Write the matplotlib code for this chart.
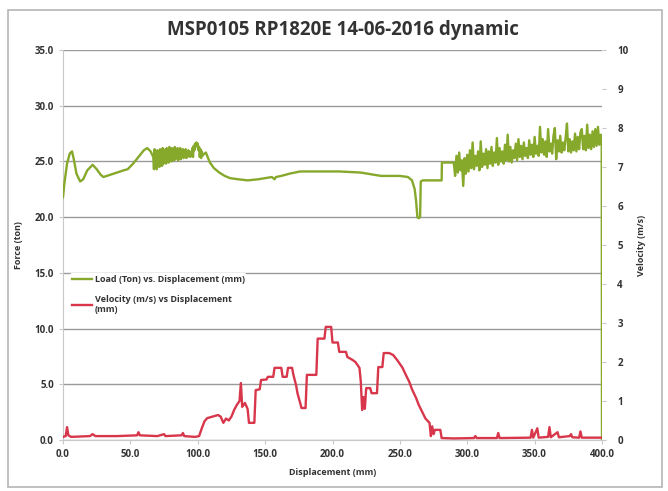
import matplotlib
matplotlib.use("Agg")
import matplotlib.pyplot as plt
from matplotlib.patches import Rectangle

plt.rcParams['font.family'] = ['Open Sans', 'DejaVu Sans']

title = "MSP0105 RP1820E 14-06-2016 dynamic"
x_label = "Displacement (mm)"
y_left_label = "Force (ton)"
y_right_label = "Velocity (m/s)"
load_name = "Load (Ton) vs. Displacement (mm)"
vel_name = "Velocity (m/s) vs Displacement\n(mm)"

x_ticks = [0, 50, 100, 150, 200, 250, 300, 350, 400]
force_ticks = [0, 5, 10, 15, 20, 25, 30, 35]
vel_ticks = [0, 1, 2, 3, 4, 5, 6, 7, 8, 9, 10]

load_disp = [0, 1, 3, 5, 6.7, 8, 10, 12.7, 15, 18, 22, 25, 28, 30, 35, 40, 45, 48, 52, 56, 60, 62.5, 65,
             67, 67.5, 68, 68.5, 69, 69.5, 70, 70.5, 71, 71.5, 72, 72.5, 73, 73.5, 74, 74.5, 75, 75.5,
             76, 76.5, 77, 77.5, 78, 78.5, 79, 79.5, 80, 80.5, 81, 81.5, 82, 82.5, 83, 83.5, 84, 84.5,
             85, 85.5, 86, 86.5, 87, 87.5, 88, 88.5, 89, 89.5, 90, 90.5, 91, 91.5, 92, 92.5, 93, 93.5,
             94, 94.5, 95, 95.5, 96, 96.5, 97, 97.5, 98, 98.5, 99, 99.5, 100, 100.5, 101, 101.5, 102,
             102.5, 103, 103.5, 104,
             106, 109, 112, 116, 120, 124, 130, 137, 145, 150, 155, 157, 158, 162, 168, 176, 190, 205, 221,
             236, 250, 256, 259, 261, 262, 263, 264, 265, 265.5, 267, 281, 281.2,
             290, 291, 292, 293, 294, 295, 296, 297, 298, 299, 300, 301, 302, 303, 304, 305, 306, 307,
             308, 309, 310, 311, 312, 313, 314, 315, 316, 317, 318, 319, 320, 321, 322, 323, 324, 325,
             326, 327, 328, 329, 330, 331, 332, 333, 334, 335, 336, 337, 338, 339, 340, 341, 342, 343,
             344, 345, 346, 347, 348, 349, 350, 351, 352, 353, 354, 355, 356, 357, 358, 359, 360, 361,
             362, 363, 364, 365, 366, 367, 368, 369, 370, 371, 372, 373, 374, 375, 376, 377, 378, 379,
             380, 381, 382, 383, 384, 385, 386, 387, 388, 389, 390, 391, 392, 393, 394, 395, 396, 397,
             398, 399, 399.8, 400]
load_ton = [21.8, 23.0, 24.8, 25.7, 25.9, 25.2, 23.9, 23.2, 23.4, 24.2, 24.7, 24.3, 23.8, 23.6, 23.8, 24.0,
            24.2, 24.3, 24.8, 25.4, 26.0, 26.2, 25.9,
            25.4, 24.3, 26.1, 24.5, 25.9, 24.3, 26.0, 24.6, 25.8, 24.5, 26.1, 24.7, 25.9, 24.6, 26.2, 24.8,
            26.0, 24.9, 26.1, 24.8, 26.2, 25.0, 26.0, 24.9, 26.3, 25.1, 26.1, 25.0, 26.2, 25.2, 26.0, 25.1,
            26.3, 25.2, 26.1, 25.3, 26.2, 25.1, 26.0, 25.3, 26.2, 25.2, 26.0, 25.4, 26.1, 25.3, 25.9, 25.4,
            26.1, 25.3, 25.9, 25.4, 26.0, 25.5, 25.9, 25.4, 25.8, 25.5, 26.2, 25.4, 26.4, 26.0, 26.6, 26.3,
            26.7, 26.5, 26.6, 26.0, 26.3, 25.4, 26.1, 25.3, 25.9, 25.5, 25.6,
            25.8, 24.9, 24.4, 24.0, 23.7, 23.5, 23.4, 23.3, 23.4, 23.5, 23.6, 23.4, 23.6, 23.7, 23.9, 24.1,
            24.1, 24.1, 24.0,
            23.7, 23.7, 23.6, 23.3, 22.5, 21.5, 20.0, 19.9, 20.0, 23.2, 23.3, 23.3, 24.9,
            24.9, 23.7, 25.5, 24.0, 25.8, 24.2, 25.1, 22.8, 25.3, 23.9,
            25.6, 24.1, 26.0, 24.4, 26.7, 24.3, 25.5, 24.6, 25.9, 24.2,
            26.8, 24.5, 25.7, 24.7, 26.1, 24.4, 25.9, 24.8, 26.3, 24.6,
            25.8, 24.9, 27.1, 24.7, 26.2, 25.0, 25.9, 24.8, 26.5, 25.1,
            27.4, 25.0, 26.3, 24.9, 26.0, 25.3, 26.6, 25.1, 27.0, 25.4,
            26.4, 25.2, 26.7, 25.5, 26.2, 25.3, 26.9, 25.6, 26.5, 25.4,
            27.2, 25.7, 26.4, 25.5, 28.1, 25.8, 27.0, 25.6, 26.8, 25.4,
            27.9, 25.9, 26.6, 25.7, 27.3, 28.0, 25.2, 26.9, 25.9, 27.3,
            25.8, 26.7, 26.0, 27.1, 28.4, 25.9, 27.0, 25.8, 26.8, 26.0,
            27.5, 25.9, 27.2, 26.1, 27.6, 27.9, 26.1, 27.3, 26.0, 28.3,
            26.2, 27.4, 26.1, 27.7, 26.3, 27.9, 26.4, 28.1, 26.5, 27.4, 26.8, 0.0]

vel_disp = [0, 2, 3, 4, 6, 20, 22, 24, 40, 55, 56, 57, 70, 75, 76, 88, 89, 90, 98, 101, 103, 105, 107, 111,
            115, 117, 119, 121, 123, 125, 127, 129, 131, 132, 133, 135, 137, 138, 142, 143, 146, 147, 151,
            152, 156, 157, 162, 163, 166, 167, 170, 171, 173, 174, 176, 177, 180, 181, 188, 189, 194, 195,
            199, 200, 204, 205, 210, 211, 215, 217, 220, 221, 222, 223, 224, 225, 228, 229, 233, 234, 237,
            238, 242, 245, 248, 250, 252, 254, 257, 259, 262, 264, 267, 269, 272, 273, 274, 275, 276, 280,
            281, 290, 305, 306, 307, 322, 323, 324, 347, 348, 349, 352, 353, 360, 361, 362, 367, 368, 376,
            377, 378, 383, 384, 385, 400]
vel_ms = [0.08, 0.1, 0.33, 0.12, 0.08, 0.1, 0.15, 0.1, 0.1, 0.12, 0.2, 0.12, 0.1, 0.15, 0.1, 0.12, 0.18, 0.1,
          0.08, 0.1, 0.3, 0.48, 0.56, 0.6, 0.64, 0.6, 0.44, 0.55, 0.5, 0.6, 0.77, 0.9, 1.0, 1.46, 0.85, 0.95,
          0.8, 0.44, 0.44, 1.28, 1.3, 1.54, 1.55, 1.62, 1.62, 1.85, 1.85, 1.62, 1.62, 1.85, 1.85, 1.67, 1.4,
          1.2, 0.95, 0.82, 0.82, 1.67, 1.67, 2.6, 2.6, 2.9, 2.9, 2.5, 2.5, 2.26, 2.26, 2.13, 2.05, 2.0,
          1.85, 1.5, 0.77, 1.1, 0.8, 1.33, 1.33, 1.2, 1.2, 1.87, 1.87, 2.23, 2.23, 2.18, 2.05, 1.95, 1.85,
          1.7, 1.49, 1.3, 1.08, 0.9, 0.69, 0.55, 0.44, 0.1, 0.35, 0.15, 0.26, 0.26, 0.05, 0.04, 0.05, 0.1,
          0.05, 0.05, 0.18, 0.05, 0.06, 0.26, 0.06, 0.3, 0.06, 0.08, 0.33, 0.07, 0.2, 0.07, 0.1, 0.15, 0.07,
          0.06, 0.22, 0.06, 0.06]

GREEN = "#86a82b"
RED = "#d8374b"
GRID = "#9a9a9a"
TXT = "#333333"

fig = plt.figure(figsize=(6.68, 4.91), dpi=100)
fig.patches.append(Rectangle((8 / 668, 4 / 491), 654 / 668, 477 / 491, transform=fig.transFigure,
                             fill=False, edgecolor="#b5b5b5", linewidth=1.2))

ax = fig.add_axes([63 / 668, 1 - 440 / 491, 539 / 668, 390 / 491])
ax2 = ax.twinx()

l1, = ax.plot(load_disp, load_ton, color=GREEN, linewidth=1.7, label=load_name, zorder=3)
l2, = ax2.plot(vel_disp, vel_ms, color=RED, linewidth=1.7, label=vel_name, zorder=3)

ax.set_xlim(0, 400)
ax.set_ylim(0, 35)
ax2.set_ylim(0, 10)
ax.set_xticks(x_ticks)
ax.set_xticklabels([f"{v:.1f}" for v in x_ticks])
ax.set_yticks(force_ticks)
ax.set_yticklabels([f"{v:.1f}" for v in force_ticks])
ax2.set_yticks(vel_ticks)
ax2.set_yticklabels([str(v) for v in vel_ticks])

ax.yaxis.grid(True, color=GRID, linewidth=1.0)
ax.set_axisbelow(True)
for a in (ax, ax2):
    for s in a.spines.values():
        s.set_color("#c8c8c8")
    a.spines['top'].set_visible(False)
ax.spines['right'].set_visible(False)
ax2.spines['left'].set_visible(False)
ax2.spines['bottom'].set_visible(False)
ax2.spines['right'].set_visible(False)

ax.tick_params(axis='both', labelsize=7, colors="#c8c8c8", labelcolor=TXT, length=3, width=0.8)
ax2.tick_params(axis='y', labelsize=7, colors="#c8c8c8", labelcolor=TXT, length=3, width=0.8, pad=8)
for lab in ax.get_xticklabels() + ax.get_yticklabels() + ax2.get_yticklabels():
    lab.set_fontweight('bold')

ax.set_xlabel(x_label, fontsize=6.5, fontweight='bold', color=TXT, labelpad=6)
ax.set_ylabel(y_left_label, fontsize=6.5, fontweight='bold', color=TXT, labelpad=8)
ax2.set_ylabel(y_right_label, fontsize=6.5, fontweight='bold', color=TXT, rotation=90, labelpad=6)

fig.text(343 / 668, 1 - 30 / 491, title, ha='center', va='center', fontsize=13.5, fontweight='bold', color=TXT)

leg = ax.legend(handles=[l1, l2], loc='upper left', bbox_to_anchor=(0.005, 0.44), frameon=True,
                fontsize=6.5, handlelength=2.2, handletextpad=0.3, labelspacing=1.2, borderpad=0.2)
leg.get_frame().set_edgecolor('none')
leg.get_frame().set_facecolor('white')
leg.get_frame().set_alpha(1.0)
for t in leg.get_texts():
    t.set_fontweight('bold')
    t.set_color(TXT)
leg.set_zorder(5)

fig.savefig("out.png", dpi=100)
